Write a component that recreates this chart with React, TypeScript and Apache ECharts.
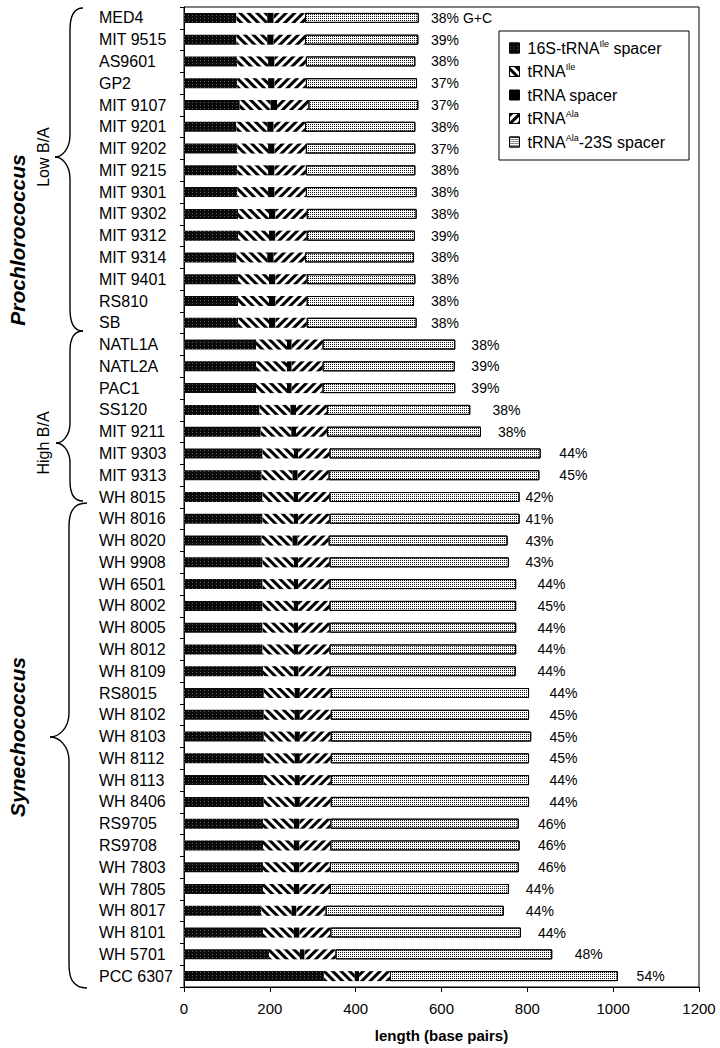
import React, { useEffect, useRef } from 'react';
import * as echarts from 'echarts';

const strains = [
  'MED4', 'MIT 9515', 'AS9601', 'GP2', 'MIT 9107', 'MIT 9201', 'MIT 9202', 'MIT 9215', 'MIT 9301', 'MIT 9302',
  'MIT 9312', 'MIT 9314', 'MIT 9401', 'RS810', 'SB', 'NATL1A', 'NATL2A', 'PAC1', 'SS120', 'MIT 9211',
  'MIT 9303', 'MIT 9313', 'WH 8015', 'WH 8016', 'WH 8020', 'WH 9908', 'WH 6501', 'WH 8002', 'WH 8005', 'WH 8012',
  'WH 8109', 'RS8015', 'WH 8102', 'WH 8103', 'WH 8112', 'WH 8113', 'WH 8406', 'RS9705', 'RS9708', 'WH 7803',
  'WH 7805', 'WH 8017', 'WH 8101', 'WH 5701', 'PCC 6307',
];

// segment lengths (bp)
const spacer16S = [
  122, 122, 124, 124, 130, 122, 124, 124, 124, 126, 126, 122, 126, 126, 126,
  168, 168, 168, 176, 179, 183, 181,
  183, 183, 181, 183, 183, 183, 183, 183, 184, 186, 186, 186, 186, 186, 186, 184, 184, 184, 184, 180, 184, 198, 326,
];
const tRNAIle = [
  72, 72, 72, 72, 72, 72, 72, 72, 72, 72, 72, 72, 72, 72, 72,
  72, 72, 72, 72, 71, 73, 72,
  73, 73, 72, 73, 73, 73, 73, 73, 72, 72, 72, 72, 72, 72, 72, 72, 72, 72, 72, 71, 72, 72, 72,
];
const tRNASpacer = [
  15, 15, 15, 15, 15, 15, 15, 15, 15, 15, 15, 15, 15, 15, 15,
  11, 11, 11, 13, 11, 10, 12,
  10, 10, 12, 10, 10, 10, 10, 10, 11, 12, 12, 12, 12, 12, 12, 13, 13, 13, 13, 11, 13, 11, 10,
];
const tRNAAla = [
  73, 73, 73, 73, 73, 73, 73, 73, 73, 73, 73, 73, 73, 73, 73,
  72, 72, 72, 72, 72, 73, 72,
  73, 73, 72, 73, 73, 73, 73, 73, 72, 72, 72, 72, 72, 72, 72, 72, 72, 71, 71, 68, 72, 72, 72,
];
const spacer23S = [
  265, 264, 255, 259, 256, 257, 255, 255, 258, 256, 252, 254, 253, 250, 256,
  309, 308, 309, 334, 359, 492, 491,
  443, 443, 417, 418, 435, 435, 435, 435, 434, 462, 462, 467, 462, 462, 462, 439, 441, 440, 417, 415, 444, 505, 531,
];

const gcContent = [
  '38% G+C', '39%', '38%', '37%', '37%', '38%', '37%', '38%', '38%', '38%', '39%', '38%', '38%', '38%', '38%',
  '38%', '39%', '39%', '38%', '38%', '44%', '45%',
  '42%', '41%', '43%', '43%', '44%', '45%', '44%', '44%', '44%', '44%', '45%', '45%', '45%', '44%', '44%', '46%',
  '46%', '46%', '44%', '44%', '44%', '48%', '54%',
];
// x value (bp) at which each G+C label starts
const gcLabelAt = [
  575, 575, 575, 575, 575, 575, 575, 575, 575, 575, 575, 575, 575, 575, 575,
  669, 669, 669, 718, 731, 874, 874,
  795, 795, 795, 795, 823, 823, 823, 823, 823, 851, 851, 851, 851, 851, 851, 824, 824, 824, 796, 796, 824, 910, 1054,
];

const seriesNames = ['16S-tRNAIle spacer', 'tRNAIle', 'tRNA spacer', 'tRNAAla', 'tRNAAla-23S spacer'];
const legendLabels = ['16S-tRNA{sup|Ile} spacer', 'tRNA{sup|Ile}', 'tRNA spacer', 'tRNA{sup|Ala}', 'tRNA{sup|Ala}-23S spacer'];

const FONT = '"Liberation Sans", Arial, Helvetica, sans-serif';

function brace(xb: number, xr: number, xt: number, yTop: number, yMid: number, yBot: number, r: number) {
  const st = { stroke: '#000', lineWidth: 1.4, fill: null as any };
  return [
    { type: 'bezierCurve', shape: { x1: xr, y1: yTop, cpx1: xb + 3, cpy1: yTop, cpx2: xb, cpy2: yTop + r * 0.45, x2: xb, y2: yTop + r }, style: st, silent: true },
    { type: 'line', shape: { x1: xb, y1: yTop + r, x2: xb, y2: yMid - r }, style: st, silent: true },
    { type: 'bezierCurve', shape: { x1: xb, y1: yMid - r, cpx1: xb, cpy1: yMid - r * 0.35, cpx2: xt + (xb - xt) * 0.45, cpy2: yMid, x2: xt, y2: yMid }, style: st, silent: true },
    { type: 'bezierCurve', shape: { x1: xt, y1: yMid, cpx1: xt + (xb - xt) * 0.45, cpy1: yMid, cpx2: xb, cpy2: yMid + r * 0.35, x2: xb, y2: yMid + r }, style: st, silent: true },
    { type: 'line', shape: { x1: xb, y1: yMid + r, x2: xb, y2: yBot - r }, style: st, silent: true },
    { type: 'bezierCurve', shape: { x1: xb, y1: yBot - r, cpx1: xb, cpy1: yBot - r * 0.45, cpx2: xb + 3, cpy2: yBot, x2: xr, y2: yBot }, style: st, silent: true },
  ];
}

export default function App() {
  const ref = useRef<HTMLDivElement>(null);
  useEffect(() => {
    if (!ref.current) return;
    const chart = echarts.init(ref.current, undefined, { renderer: 'svg' });
    const segData = [spacer16S, tRNAIle, tRNASpacer, tRNAAla, spacer23S];
    const styles: any[] = [
      {
        color: '#0a0a0a',
        decal: { symbol: 'rect', symbolSize: 1, color: 'rgba(255,255,255,0.35)', dashArrayX: [1, 3], dashArrayY: [1, 2] },
      },
      {
        color: '#ffffff',
        decal: { symbol: 'rect', symbolSize: 1, color: '#000', dashArrayX: [1, 0], dashArrayY: [2.6, 2.4], rotation: Math.PI / 4 },
      },
      { color: '#000000' },
      {
        color: '#ffffff',
        decal: { symbol: 'rect', symbolSize: 1, color: '#000', dashArrayX: [1, 0], dashArrayY: [2.6, 2.4], rotation: -Math.PI / 4 },
      },
      {
        color: '#ffffff',
        borderColor: '#000',
        borderWidth: 1,
        decal: { symbol: 'rect', symbolSize: 1, color: '#111', dashArrayX: [1, 1], dashArrayY: [1, 1] },
      },
    ];
    const barSeries = segData.map((d, k) => ({
      type: 'bar',
      name: seriesNames[k],
      stack: 'len',
      barWidth: 10,
      silent: true,
      data: d,
      itemStyle: styles[k],
    }));
    const option: any = {
      animation: false,
      backgroundColor: '#fff',
      textStyle: { fontFamily: FONT, color: '#000' },
      grid: { left: 184, right: 21, top: 7, bottom: 54, show: true, borderColor: '#000', borderWidth: 1, backgroundColor: 'transparent' },
      xAxis: {
        type: 'value', min: 0, max: 1200, interval: 200,
        name: 'length (base pairs)', nameLocation: 'middle', nameGap: 41,
        nameTextStyle: { fontFamily: FONT, fontSize: 15, fontWeight: 'bold', color: '#000' },
        axisLine: { show: true, lineStyle: { color: '#000', width: 1 } },
        axisTick: { show: true, length: 5, inside: false, lineStyle: { color: '#000' } },
        axisLabel: { fontFamily: FONT, fontSize: 15, color: '#000', margin: 14, formatter: (v: number) => String(v) },
        splitLine: { show: false },
      },
      yAxis: {
        type: 'category', data: strains, inverse: true,
        axisLine: { show: true, lineStyle: { color: '#000', width: 1 } },
        axisTick: { show: true, length: 4, inside: false, alignWithLabel: false, lineStyle: { color: '#000' } },
        axisLabel: { fontFamily: FONT, fontSize: 16, color: '#000', align: 'left', margin: 85 },
        splitLine: { show: false },
      },
      legend: {
        data: seriesNames,
        orient: 'vertical',
        left: 499, top: 31,
        padding: [8, 24, 9, 10],
        itemGap: 5.5,
        itemWidth: 10, itemHeight: 10,
        icon: 'rect',
        selectedMode: false,
        borderColor: '#000', borderWidth: 1, borderRadius: 0,
        backgroundColor: '#fff',
        itemStyle: { borderColor: '#000', borderWidth: 1 },
        formatter: (n: string) => legendLabels[seriesNames.indexOf(n)],
        textStyle: {
          fontFamily: FONT, fontSize: 16, color: '#000', lineHeight: 18, padding: [0, 0, 0, 3],
          rich: { sup: { fontFamily: FONT, fontSize: 9, lineHeight: 10, verticalAlign: 'top', color: '#000' } },
        },
      },
      series: [
        ...barSeries,
        {
          type: 'scatter',
          name: 'G+C',
          silent: true,
          symbolSize: 0.5,
          itemStyle: { color: '#fff', opacity: 1 },
          data: strains.map((s, i) => [gcLabelAt[i], s]),
          label: {
            show: true, position: 'right', distance: 0,
            formatter: (p: any) => gcContent[p.dataIndex],
            fontFamily: FONT, fontSize: 14, color: '#000', opacity: 1,
          },
          z: 5,
        },
      ],
      graphic: [
        ...brace(70, 83, 55, 8, 157, 331, 22),
        ...brace(70, 83, 56, 331, 443, 501, 20),
        ...brace(69, 87, 50, 503, 737, 988, 24),
        { type: 'text', x: 43, y: 157, rotation: Math.PI / 2, silent: true, style: { text: 'Low B/A', font: `16px ${FONT}`, fill: '#000', textAlign: 'center', textVerticalAlign: 'middle' } },
        { type: 'text', x: 43, y: 443, rotation: Math.PI / 2, silent: true, style: { text: 'High B/A', font: `16px ${FONT}`, fill: '#000', textAlign: 'center', textVerticalAlign: 'middle' } },
        { type: 'text', x: 17, y: 240, rotation: Math.PI / 2, silent: true, style: { text: 'Prochlorococcus', font: `italic bold 21px ${FONT}`, fill: '#000', textAlign: 'center', textVerticalAlign: 'middle' } },
        { type: 'text', x: 17, y: 737, rotation: Math.PI / 2, silent: true, style: { text: 'Synechococcus', font: `italic bold 21px ${FONT}`, fill: '#000', textAlign: 'center', textVerticalAlign: 'middle' } },
      ],
    };
    chart.setOption(option);
    return () => chart.dispose();
  }, []);
  return <div ref={ref} style={{ position: 'absolute', left: 0, top: 0, width: 720, height: 1048, background: '#fff' }} />;
}
